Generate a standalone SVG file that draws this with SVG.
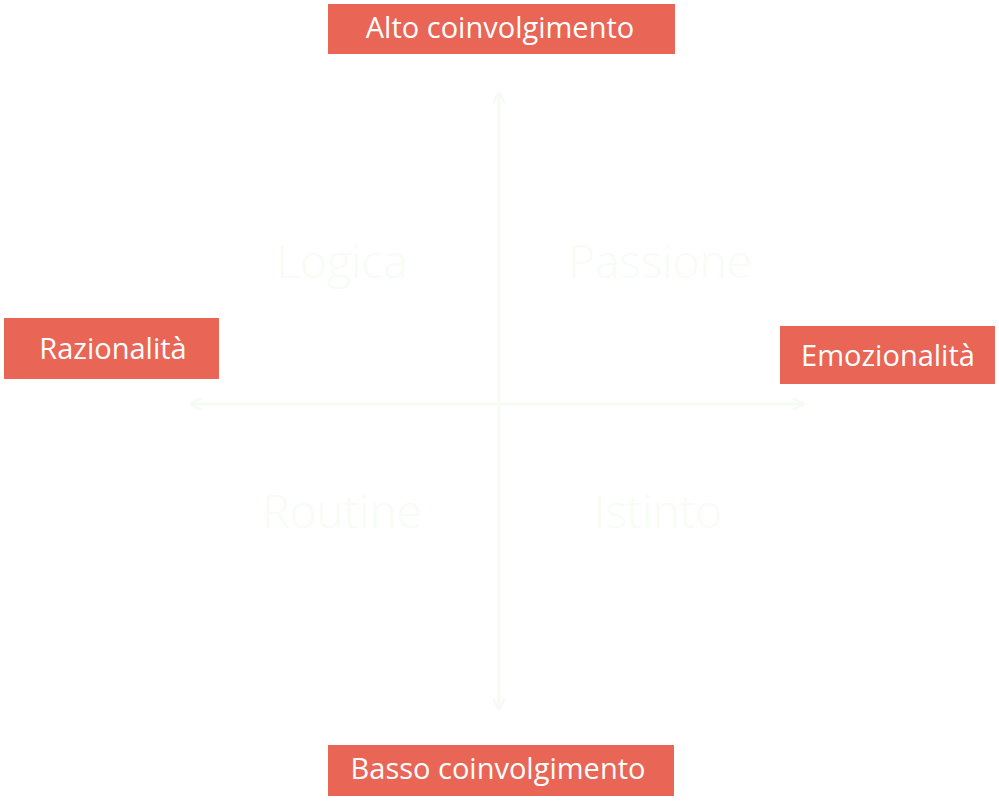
<svg xmlns="http://www.w3.org/2000/svg" width="999" height="801" viewBox="0 0 999 801">
<style>
.box{fill:#e96555}
.lbl{font-family:"Open Sans","Liberation Sans",sans-serif;font-size:29px;fill:#ffffff;text-anchor:middle}
.q{font-family:"Open Sans","Liberation Sans",sans-serif;font-size:46px;font-weight:300;fill:#f7fcf4;text-anchor:middle}
.ax{stroke:#f5fbf2;stroke-width:3;fill:none}
</style>
<defs>
<marker id="ah" viewBox="0 0 10 10" refX="8" refY="5" markerWidth="4" markerHeight="4" orient="auto-start-reverse">
<path d="M0,0 L10,5 L0,10" fill="none" stroke="#f5fbf2" stroke-width="2"/>
</marker>
</defs>
<rect width="999" height="801" fill="#ffffff"/>
<g id="connectors">
<line class="ax" x1="499" y1="94" x2="499" y2="708" marker-start="url(#ah)" marker-end="url(#ah)"/>
<line class="ax" x1="192" y1="404" x2="802" y2="404" marker-start="url(#ah)" marker-end="url(#ah)"/>
</g>
<g id="quadrants">
<text class="q" x="342" y="278">Logica</text>
<text class="q" x="660" y="278">Passione</text>
<text class="q" x="342" y="528">Routine</text>
<text class="q" x="658" y="528">Istinto</text>
</g>
<g id="top"><rect class="box" x="328" y="4" width="347" height="50"/><text class="lbl" x="500" y="38">Alto coinvolgimento</text></g>
<g id="left"><rect class="box" x="4" y="318" width="215" height="61"/><text class="lbl" x="113" y="359">Razionalità</text></g>
<g id="right"><rect class="box" x="780" y="326" width="215" height="58"/><text class="lbl" x="888" y="366">Emozionalità</text></g>
<g id="bottom"><rect class="box" x="328" y="745" width="346" height="51"/><text class="lbl" x="498" y="779">Basso coinvolgimento</text></g>
</svg>
